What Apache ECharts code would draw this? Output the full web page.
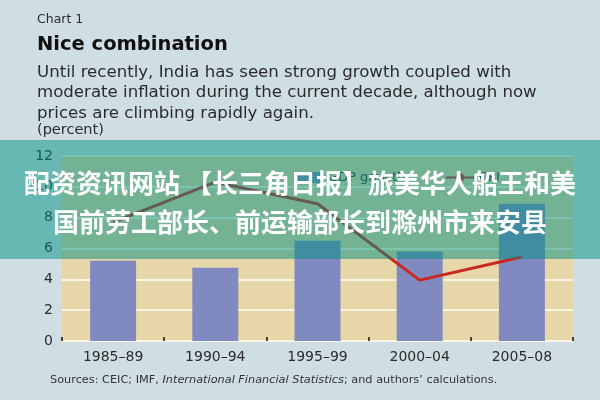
<!DOCTYPE html>
<html>
<head>
<meta charset="utf-8">
<script src="https://cdn.jsdelivr.net/npm/echarts@6/dist/echarts.min.js"></script>
<style>html,body{margin:0;padding:0;background:#cfdee4;}#c{width:600px;height:400px;}</style>
</head>
<body>
<div id="c"></div>
<script>
const categories = ['1985–89', '1990–94', '1995–99', '2000–04', '2005–08'];
const gdpGrowth = [5.2, 4.75, 6.5, 5.8, 8.9];
const cpi = [7.7, 10.3, 8.9, 3.95, 5.45];
const yMin = 0, yMax = 12, yStep = 2;
const seriesNames = ['GDP growth', 'CPI'];
const overlayLines = ['配资资讯网站 【长三角日报】旅美华人船王和美', '国前劳工部长、前运输部长到滁州市来安县'];

const FONT = '"DejaVu Sans", sans-serif';
const chart = echarts.init(document.getElementById('c'), null, {renderer: 'canvas'});
chart.setOption({
  backgroundColor: '#cfdee4',
  animation: false,
  grid: {left: 62, right: 27, top: 156, bottom: 59, show: true, backgroundColor: '#e7d6a8', borderWidth: 0},
  legend: [
    {data: [seriesNames[0]], left: 293, top: 166, itemWidth: 25, itemHeight: 11, textStyle: {fontFamily: FONT, fontSize: 13, color: '#333'}},
    {data: [seriesNames[1]], left: 440, top: 166, itemWidth: 28, itemHeight: 11, textStyle: {fontFamily: FONT, fontSize: 13, color: '#333'}}
  ],
  xAxis: {
    type: 'category', data: categories,
    axisLine: {show: false},
    axisTick: {show: true, inside: true, length: 4, lineStyle: {color: '#4a4030', width: 2}},
    axisLabel: {fontFamily: FONT, fontSize: 14, color: '#2b2b2b', margin: 9}
  },
  yAxis: {
    type: 'value', min: yMin, max: yMax, interval: yStep,
    axisLine: {show: false}, axisTick: {show: false},
    axisLabel: {fontFamily: FONT, fontSize: 14, color: '#2b2b2b', margin: 9},
    splitLine: {lineStyle: {color: '#fbf6e3', width: 2}}
  },
  series: [
    {name: seriesNames[0], type: 'bar', data: gdpGrowth, barWidth: 46, itemStyle: {color: '#8189c1'}},
    {name: seriesNames[1], type: 'line', data: cpi, symbol: 'none', lineStyle: {color: '#c8281e', width: 3}, itemStyle: {color: '#c8281e'}}
  ],
  graphic: [
    {type: 'text', left: 37, top: 13, style: {text: 'Chart 1', fontFamily: FONT, fontSize: 12.5, fill: '#2b2b2b'}},
    {type: 'text', left: 37, top: 35, style: {text: 'Nice combination', fontFamily: FONT, fontSize: 19.5, fontWeight: 'bold', fill: '#111'}},
    {type: 'text', left: 37, top: 62, style: {text: 'Until recently, India has seen strong growth coupled with\nmoderate inflation during the current decade, although now\nprices are climbing rapidly again.', fontFamily: FONT, fontSize: 16.6, lineHeight: 20.5, fill: '#2b2b2b'}},
    {type: 'text', left: 37, top: 123, style: {text: '(percent)', fontFamily: FONT, fontSize: 14.5, fill: '#2b2b2b'}},
    {type: 'text', left: 50, top: 375, style: {
      text: '{n|Sources: CEIC; IMF, }{i|International Financial Statistics}{n|; and authors’ calculations.}',
      rich: {n: {fontFamily: FONT, fontSize: 11.3, fill: '#333'}, i: {fontFamily: FONT, fontSize: 11.3, fontStyle: 'italic', fill: '#333'}}
    }},
    {type: 'rect', z: 100, shape: {x: 0, y: 140, width: 600, height: 119}, style: {fill: 'rgba(0,143,127,0.5)'}},
    {type: 'text', z: 101, x: 300, y: 183, style: {text: overlayLines[0], fontFamily: '"Noto Sans CJK SC"', fontWeight: 'bold', fontSize: 26, fill: '#ffffff', align: 'center', verticalAlign: 'middle'}},
    {type: 'text', z: 101, x: 300, y: 222, style: {text: overlayLines[1], fontFamily: '"Noto Sans CJK SC"', fontWeight: 'bold', fontSize: 26, fill: '#ffffff', align: 'center', verticalAlign: 'middle'}}
  ]
});
</script>
</body>
</html>
